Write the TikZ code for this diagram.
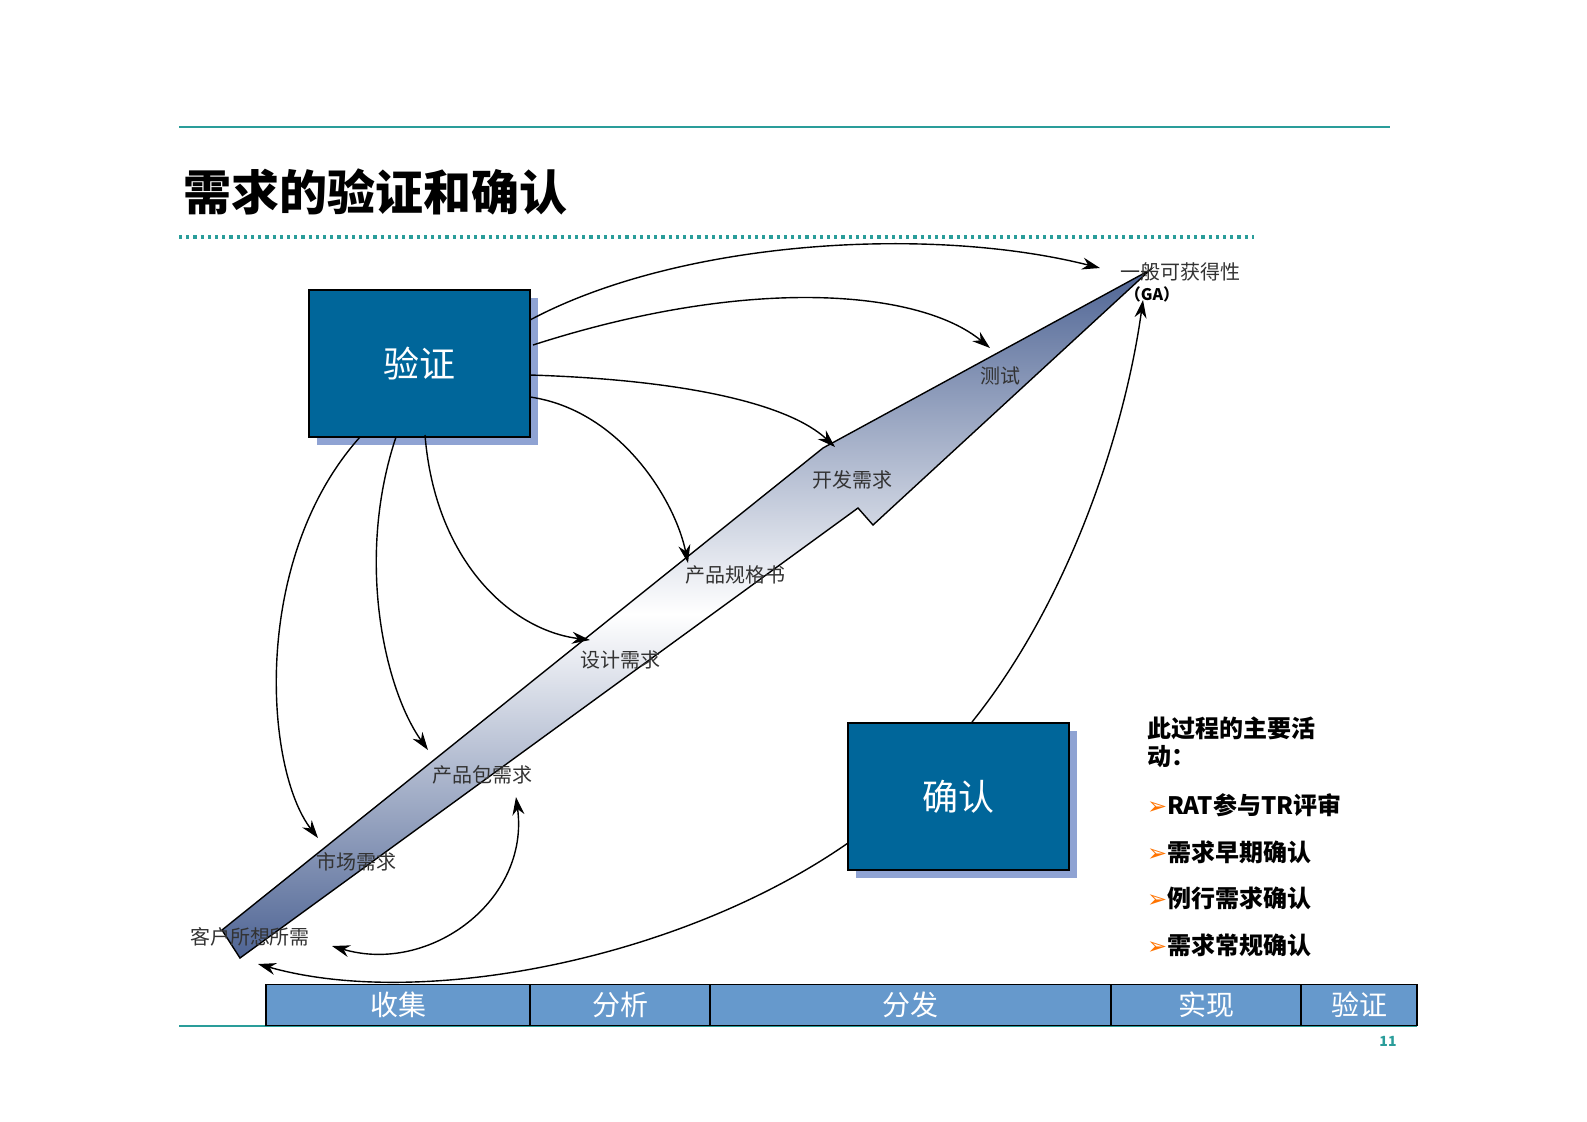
\documentclass[tikz,border=0pt]{standalone}
\usepackage{fontspec}
\setmainfont{Noto Sans CJK SC}
\newfontfamily\dv{DejaVu Sans}
\usetikzlibrary{arrows.meta}
\definecolor{teal1}{HTML}{2A9D9A}
\definecolor{boxblue}{HTML}{00669A}
\definecolor{barblue}{HTML}{6699CC}
\definecolor{shadowc}{HTML}{8FA3D3}
\definecolor{arrowdark}{HTML}{4E6494}
\tikzset{
 conn/.style={-{Stealth[length=9pt,width=6pt]},line width=0.7pt},
 lbl/.style={font=\fontsize{10}{12}\selectfont,text=black!80},
 bigbox/.style={draw=black,line width=0.8pt,fill=boxblue,text=white,font=\fontsize{18}{22}\selectfont,minimum width=110.5pt,minimum height=73.5pt},
 barseg/.style={draw=black,line width=0.6pt,fill=barblue,text=white,font=\fontsize{14}{16}\selectfont,minimum height=20.5pt,inner sep=0pt},
 item/.style={anchor=west,font=\fontsize{12}{14}\selectfont\bfseries},
}
\begin{document}
\begin{tikzpicture}[x=0.5pt,y=-0.5pt]
\useasboundingbox (0,0) rectangle (1587,1121);
% lines
\draw[teal1,line width=1pt] (179,127) -- (1390,127);
\draw[teal1,line width=1.6pt,dotted] (179,237) -- (1254,237);
\draw[teal1,line width=1pt] (179,1026) -- (1417,1026);
\node[anchor=west,font=\fontsize{24}{28}\selectfont\bfseries] (title) at (176,192) {需求的验证和确认};
\node[font=\fontsize{7}{8}\selectfont\bfseries,text=teal1] (pg) at (1388,1041) {11};
% big arrow
\path[draw=black,line width=0.7pt,shading angle=-38,top color=arrowdark,bottom color=arrowdark,middle color=white]
 (222,930) -- (823,448) -- (1150,270) -- (873,525) -- (858,508) -- (240,958) -- cycle;
% boxes
\fill[shadowc] (317,298) rectangle (538,445);
\node[bigbox] (ver) at (419.5,363.5) {验证};
\fill[shadowc] (856,731) rectangle (1077,878);
\node[bigbox] (conf) at (958.5,796.5) {确认};
% labels
\node[lbl] (ga) at (1180,272) {一般可获得性};
\node[font=\fontsize{8}{10}\selectfont\bfseries] (ga2) at (1152,294) {（GA）};
\node[lbl] (test) at (1000,376) {测试};
\node[lbl] (dev) at (852,480) {开发需求};
\node[lbl] (spec) at (735,575) {产品规格书};
\node[lbl] (des) at (620,660) {设计需求};
\node[lbl] (pkg) at (482,775) {产品包需求};
\node[lbl] (mkt) at (356,862) {市场需求};
\node[lbl] (cust) at (250,937) {客户所想所需};
% coordinates
\coordinate (v1) at (530,320); \coordinate (t1) at (1100,268);
\coordinate (v2) at (533,345); \coordinate (t2) at (990,348);
\coordinate (v3) at (530,375); \coordinate (t3) at (835,447);
\coordinate (v4) at (530,397); \coordinate (t4) at (688,563);
\coordinate (v5) at (425,435); \coordinate (t5) at (590,640);
\coordinate (v6) at (396,437); \coordinate (t6) at (428,750);
\coordinate (v7) at (360,437); \coordinate (t7) at (318,838);
\coordinate (c1) at (972,722); \coordinate (t8) at (1143,300);
\coordinate (c2) at (848,843); \coordinate (t9) at (258,964);
\coordinate (p1) at (516,797); \coordinate (p2) at (332,946);
\draw[conn] (v1) .. controls (680,240) and (930,225) .. (t1);
\draw[conn] (v2) .. controls (750,275) and (920,290) .. (t2);
\draw[conn] (v3) .. controls (690,380) and (790,405) .. (t3);
\draw[conn] (v4) .. controls (620,410) and (675,500) .. (t4);
\draw[conn] (v5) .. controls (435,560) and (510,630) .. (t5);
\draw[conn] (v6) .. controls (355,560) and (385,690) .. (t6);
\draw[conn] (v7) .. controls (250,560) and (265,770) .. (t7);
\draw[conn] (c1) .. controls (1070,600) and (1125,430) .. (t8);
\draw[conn] (c2) .. controls (680,960) and (420,1010) .. (t9);
\draw[{Stealth[length=9pt,width=6pt]}-{Stealth[length=9pt,width=6pt]},line width=0.7pt] (p1) .. controls (530,900) and (430,975) .. (p2);
% bar
\node[barseg,minimum width=132pt] (b1) at (398,1005) {收集};
\node[barseg,minimum width=90pt] (b2) at (620,1005) {分析};
\node[barseg,minimum width=200.5pt] (b3) at (910.5,1005) {分发};
\node[barseg,minimum width=95pt] (b4) at (1206,1005) {实现};
\node[barseg,minimum width=58pt] (b5) at (1359,1005) {验证};
% list
\node[item,align=left,anchor=north west] (h) at (1140,710) {此过程的主要活\\动：};
\node[item] (i1) at (1140,805) {{\dv\color{orange!90!red}➢}RAT参与TR评审};
\node[item] (i2) at (1140,852) {{\dv\color{orange!90!red}➢}需求早期确认};
\node[item] (i3) at (1140,898) {{\dv\color{orange!90!red}➢}例行需求确认};
\node[item] (i4) at (1140,945) {{\dv\color{orange!90!red}➢}需求常规确认};
\end{tikzpicture}
\end{document}
